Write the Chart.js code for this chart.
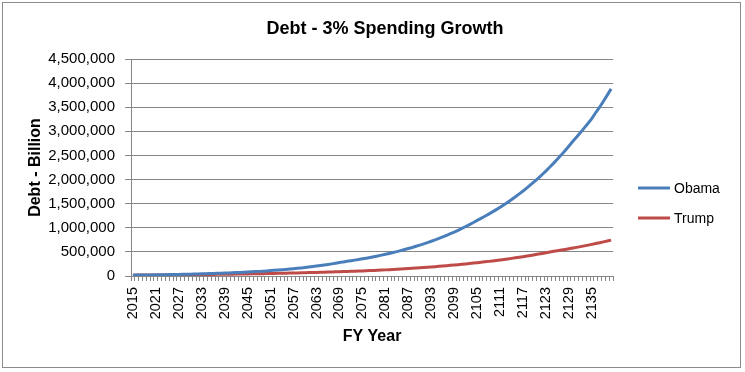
<!DOCTYPE html>
<html>
<head>
<meta charset="utf-8">
<script src="https://cdn.jsdelivr.net/npm/chart.js@4"></script>
<style>
  body { margin:0; background:#fff; }
  canvas { display:block; }
</style>
</head>
<body>
<canvas id="debtChart" width="745" height="372"></canvas>
<script>
// anos fiscais (categorias)
const years = [
  '2015','2016','2017','2018','2019','2020','2021','2022','2023','2024',
  '2025','2026','2027','2028','2029','2030','2031','2032','2033','2034',
  '2035','2036','2037','2038','2039','2040','2041','2042','2043','2044',
  '2045','2046','2047','2048','2049','2050','2051','2052','2053','2054',
  '2055','2056','2057','2058','2059','2060','2061','2062','2063','2064',
  '2065','2066','2067','2068','2069','2070','2071','2072','2073','2074',
  '2075','2076','2077','2078','2079','2080','2081','2082','2083','2084',
  '2085','2086','2087','2088','2089','2090','2091','2092','2093','2094',
  '2095','2096','2097','2098','2099','2100','2101','2102','2103','2104',
  '2105','2106','2107','2108','2109','2110','2111','2112','2113','2114',
  '2115','2116','2117','2118','2119','2120','2121','2122','2123','2124',
  '2125','2126','2127','2128','2129','2130','2131','2132','2133','2134',
  '2135','2136','2137','2138','2139','2140'
];

// divida em bilhoes
const obama = [
  18000, 18900, 19900, 21000, 22000, 23200, 24400, 25700, 27000, 28400,
  29900, 31400, 33100, 34800, 36600, 38500, 40500, 42600, 44800, 47200,
  49600, 52200, 54900, 57800, 60800, 63900, 67200, 70700, 74400, 78300,
  82400, 86600, 91200, 95900, 100900, 106100, 111600, 117500, 123600, 130000,
  136700, 143900, 151300, 159200, 167500, 176200, 185400, 195000, 205100, 215800,
  227000, 238800, 251200, 264300, 278100, 292500, 304000, 316000, 329000, 342000,
  356000, 370000, 385000, 400000, 416000, 433000, 450000, 468000, 487000, 506000,
  527000, 548000, 570000, 592000, 616000, 641000, 666000, 693000, 721000, 749000,
  779000, 811000, 843000, 877000, 912000, 948000, 986000, 1026000, 1067000, 1109000,
  1154000, 1195000, 1238000, 1283000, 1329000, 1377000, 1427000, 1478000, 1531000, 1586000,
  1643000, 1703000, 1764000, 1827000, 1893000, 1961000, 2032000, 2105000, 2181000, 2259000,
  2341000, 2425000, 2512000, 2603000, 2697000, 2794000, 2883000, 2975000, 3071000, 3169000,
  3270000, 3390000, 3500000, 3625000, 3750000, 3880000
];

const trump = [
  18000, 18500, 19100, 19700, 20300, 20900, 21500, 22100, 22800, 23500,
  24200, 24900, 25700, 26400, 27200, 28000, 28900, 29800, 30600, 31600,
  32500, 33500, 34500, 35500, 36600, 37700, 38800, 40000, 41200, 42400,
  43700, 45000, 46400, 47800, 49200, 50700, 52200, 53700, 55300, 57000,
  58700, 60500, 62300, 64200, 66100, 68100, 70100, 72200, 74400, 76600,
  78900, 81300, 83700, 86200, 88800, 91500, 94200, 97000, 99900, 102900,
  106000, 109200, 112500, 115900, 119300, 122900, 127000, 131200, 135500, 140000,
  144600, 149400, 154300, 159400, 164600, 170100, 175700, 181500, 187500, 193700,
  200000, 206600, 213500, 220500, 227800, 235300, 243100, 251100, 259400, 267600,
  276100, 284800, 293800, 303100, 312700, 322500, 332700, 343200, 354100, 365300,
  376800, 388700, 401000, 413700, 426800, 440200, 454200, 468500, 483300, 498600,
  511200, 524100, 537400, 551000, 564900, 579200, 593900, 608900, 624300, 640100,
  656300, 672900, 689900, 707400, 725300, 743700
];

const seriesNames = ['Obama', 'Trump'];
const seriesColors = ['#4a7ebb', '#be4b48'];
const titleText = 'Debt - 3% Spending Growth';

const gridGray = '#868686';

Chart.defaults.font.family = '"Liberation Sans", Arial, sans-serif';
Chart.defaults.color = '#000';

// moldura, titulo e legenda desenhados a mao
const framePlugin = {
  id: 'frame',
  beforeDraw(chart) {
    const ctx = chart.ctx;
    ctx.save();
    ctx.fillStyle = '#fff';
    ctx.fillRect(0, 0, chart.width, chart.height);
    ctx.strokeStyle = '#8c8c8c';
    ctx.lineWidth = 1;
    ctx.strokeRect(2.5, 2.5, 738, 365);
    ctx.restore();
  },
  afterDraw(chart) {
    const ctx = chart.ctx;
    ctx.save();
    ctx.fillStyle = '#000';
    ctx.font = 'bold 18px "Liberation Sans", Arial, sans-serif';
    ctx.textAlign = 'center';
    ctx.textBaseline = 'alphabetic';
    ctx.fillText(titleText, 385, 34);

    // legenda
    ctx.font = '14px "Liberation Sans", Arial, sans-serif';
    ctx.textAlign = 'left';
    ctx.textBaseline = 'middle';
    chart.data.datasets.forEach((ds, i) => {
      const y = 188 + i * 30;
      ctx.strokeStyle = ds.borderColor;
      ctx.lineWidth = 3;
      ctx.beginPath();
      ctx.moveTo(638, y);
      ctx.lineTo(670, y);
      ctx.stroke();
      ctx.fillStyle = '#000';
      ctx.fillText(ds.label, 674, y + 1);
    });
    ctx.restore();
  }
};

const ctx = document.getElementById('debtChart').getContext('2d');
const debtChart = new Chart(ctx, {
  type: 'line',
  data: {
    labels: years,
    datasets: [
      { label: seriesNames[0], data: obama, borderColor: seriesColors[0], borderWidth: 3,
        pointRadius: 0, tension: 0, fill: false },
      { label: seriesNames[1], data: trump, borderColor: seriesColors[1], borderWidth: 3,
        pointRadius: 0, tension: 0, fill: false }
    ]
  },
  options: {
    responsive: false,
    animation: false,
    devicePixelRatio: 1,
    layout: { padding: { left: 10, right: 132, top: 59, bottom: 0 } },
    plugins: {
      legend: { display: false },
      title: { display: false },
      tooltip: { enabled: false }
    },
    scales: {
      x: {
        type: 'category',
        offset: true,
        grid: { display: true, drawOnChartArea: false, drawTicks: true, tickLength: 5,
                offset: true, color: gridGray },
        border: { display: true, color: gridGray, width: 1 },
        ticks: {
          autoSkip: false, maxRotation: 90, minRotation: 90, padding: 6,
          font: { size: 14.5 },
          callback: function(val, index) {
            return index % 6 === 0 ? this.getLabelForValue(val) : '';
          }
        },
        title: { display: true, text: 'FY Year', font: { size: 16, weight: 'bold' },
                 padding: { top: 0, bottom: 26 } },
        afterFit: function(scale) { scale.height = 96; }
      },
      y: {
        min: 0,
        max: 4500000,
        grid: { color: gridGray, tickLength: 6 },
        border: { display: true, color: gridGray, width: 1 },
        ticks: {
          stepSize: 500000, padding: 10, font: { size: 15 },
          callback: v => v.toLocaleString('en-US')
        },
        title: { display: true, text: 'Debt - Billion', font: { size: 16, weight: 'bold' },
                 padding: { top: 16, bottom: 0 } },
        afterFit: function(scale) { scale.width = 121; }
      }
    }
  },
  plugins: [framePlugin]
});
</script>
</body>
</html>
